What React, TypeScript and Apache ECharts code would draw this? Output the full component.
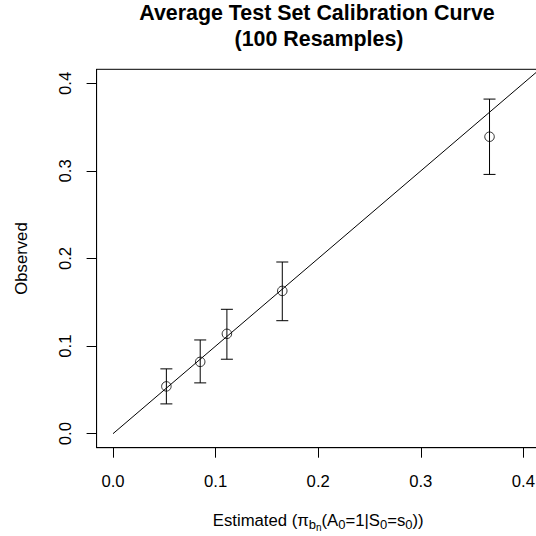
import React, { useEffect, useRef } from "react";
import * as echarts from "echarts";

// ---- data ----
const tickValues = [0, 0.1, 0.2, 0.3, 0.4];
const estimated = [0.052, 0.085, 0.111, 0.165, 0.367];
const observed = [0.054, 0.082, 0.114, 0.163, 0.339];
const lowerCI = [0.034, 0.058, 0.085, 0.129, 0.296];
const upperCI = [0.074, 0.107, 0.142, 0.196, 0.382];
const identityLine = [0, 1];

const titleLines = ["Average Test Set Calibration Curve", "(100 Resamples)"];
const yTitle = "Observed";

const FONT = '"Liberation Sans", Arial, Helvetica, sans-serif';
const FS = 16.7;

export default function App() {
  const ref = useRef<HTMLDivElement>(null);

  useEffect(() => {
    if (!ref.current) return;
    const chart = echarts.init(ref.current, null, { renderer: "svg", width: 536, height: 536 });

    const axisCommon = {
      type: "value" as const,
      min: -0.016,
      max: 0.416,
      splitLine: { show: false },
      axisLine: { show: true, onZero: false, lineStyle: { color: "#000", width: 1 } },
      axisTick: { show: true, length: 10, customValues: tickValues, lineStyle: { color: "#000", width: 1 } },
    };

    const option: any = {
      animation: false,
      backgroundColor: "#fff",
      textStyle: { fontFamily: FONT },
      grid: {
        left: 96.6,
        top: 69.3,
        width: 443.2,
        height: 378.4,
        show: true,
        borderColor: "#000",
        borderWidth: 1,
        backgroundColor: "transparent",
        containLabel: false,
        outerBoundsMode: "none",
      },
      graphic: [
        {
          type: "text",
          x: 317,
          y: 13.0,
          silent: true,
          style: {
            text: titleLines[0],
            font: `bold 21.4px ${FONT}`,
            fill: "#000",
            textAlign: "center",
            textVerticalAlign: "middle",
          },
        },
        {
          type: "text",
          x: 319,
          y: 39.4,
          silent: true,
          style: {
            text: titleLines[1],
            font: `bold 21.4px ${FONT}`,
            fill: "#000",
            textAlign: "center",
            textVerticalAlign: "middle",
          },
        },
      ],
      xAxis: {
        ...axisCommon,
        name: "{m|Estimated (π}{s|b}{ss|n}{m|(A}{s|0}{m|=1|S}{s|0}{m|=s}{s|0}{m|))}",
        nameLocation: "middle",
        nameGap: 60.5,
        nameTextStyle: {
          lineHeight: 24,
          rich: {
            m: { fontSize: FS, fontFamily: FONT, color: "#000", lineHeight: 24 },
            s: { fontSize: 13, fontFamily: FONT, color: "#000", padding: [8.6, 0, 0, 0], lineHeight: 24 },
            ss: { fontSize: 10, fontFamily: FONT, color: "#000", padding: [15.6, 0, 0, 0], lineHeight: 24 },
          },
        },
        axisLabel: {
          customValues: tickValues,
          formatter: (v: number) => v.toFixed(1),
          fontSize: FS,
          fontFamily: FONT,
          color: "#000",
          margin: 25,
        },
      },
      yAxis: {
        ...axisCommon,
        name: yTitle,
        nameLocation: "middle",
        nameGap: 67,
        nameTextStyle: { fontSize: FS, fontFamily: FONT, color: "#000", lineHeight: 17 },
        axisLabel: {
          customValues: tickValues,
          formatter: (v: number) => v.toFixed(1),
          fontSize: FS,
          fontFamily: FONT,
          color: "#000",
          rotate: 90,
          margin: 22.5,
        },
      },
      series: [
        {
          type: "line",
          data: identityLine.map((v) => [v, v]),
          showSymbol: false,
          symbol: "none",
          clip: true,
          silent: true,
          lineStyle: { color: "#000", width: 1 },
          z: 2,
        },
        {
          type: "custom",
          data: estimated.map((x, i) => [x, lowerCI[i], upperCI[i]]),
          encode: { x: 0, y: [1, 2] },
          silent: true,
          z: 3,
          renderItem: (params: any, api: any) => {
            const x = api.value(0);
            const top = api.coord([x, api.value(2)]);
            const bot = api.coord([x, api.value(1)]);
            const w = 6;
            const style = { stroke: "#000", lineWidth: 1, fill: null };
            return {
              type: "group",
              children: [
                { type: "line", shape: { x1: top[0], y1: top[1], x2: bot[0], y2: bot[1] }, style },
                { type: "line", shape: { x1: top[0] - w, y1: top[1], x2: top[0] + w, y2: top[1] }, style },
                { type: "line", shape: { x1: bot[0] - w, y1: bot[1], x2: bot[0] + w, y2: bot[1] }, style },
              ],
            };
          },
        },
        {
          type: "scatter",
          data: estimated.map((x, i) => [x, observed[i]]),
          symbol: "circle",
          symbolSize: 9.5,
          silent: true,
          itemStyle: { color: "rgba(0,0,0,0)", borderColor: "#000", borderWidth: 1 },
          z: 4,
        },
      ],
    };

    chart.setOption(option);
    return () => chart.dispose();
  }, []);

  return (
    <div
      ref={ref}
      style={{ position: "absolute", left: 0, top: 0, width: 536, height: 536, background: "#fff" }}
    />
  );
}
